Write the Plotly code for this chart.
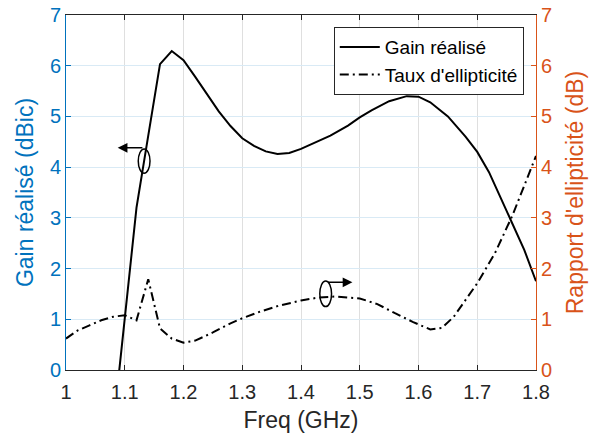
import plotly.graph_objects as go

# Gain réalisé (dBic) vs frequency (GHz)
freq_gain = [1.08, 1.10, 1.12, 1.14, 1.16, 1.18, 1.20, 1.22, 1.24, 1.26, 1.28, 1.30,
             1.32, 1.34, 1.36, 1.38, 1.40, 1.42, 1.45, 1.48, 1.50, 1.52, 1.55, 1.58,
             1.60, 1.62, 1.65, 1.68, 1.70, 1.72, 1.75, 1.78, 1.80]
gain = [-1.17, 1.01, 3.20, 4.62, 6.03, 6.29, 6.11, 5.78, 5.43, 5.10, 4.81, 4.57,
        4.42, 4.31, 4.26, 4.28, 4.36, 4.46, 4.62, 4.82, 4.98, 5.12, 5.30, 5.40,
        5.39, 5.28, 5.00, 4.60, 4.30, 3.90, 3.15, 2.37, 1.75]

# Taux d'ellipticité (dB) vs frequency (GHz)
freq_ar = [1.00, 1.02, 1.04, 1.06, 1.08, 1.10, 1.12, 1.14, 1.16, 1.18, 1.20, 1.22,
           1.25, 1.28, 1.30, 1.33, 1.36, 1.40, 1.43, 1.46, 1.50, 1.53, 1.56, 1.59,
           1.62, 1.64, 1.66, 1.68, 1.70, 1.73, 1.76, 1.80]
axial_ratio = [0.62, 0.78, 0.88, 0.98, 1.05, 1.08, 0.98, 1.79, 0.82, 0.62, 0.54, 0.58,
               0.74, 0.92, 1.02, 1.15, 1.26, 1.37, 1.43, 1.45, 1.41, 1.30, 1.12, 0.95,
               0.80, 0.83, 1.05, 1.38, 1.71, 2.30, 3.05, 4.22]

x_ticks = [1.0, 1.1, 1.2, 1.3, 1.4, 1.5, 1.6, 1.7, 1.8]
x_tick_labels = ["1", "1.1", "1.2", "1.3", "1.4", "1.5", "1.6", "1.7", "1.8"]
y_ticks = [0, 1, 2, 3, 4, 5, 6, 7]

BLUE = "#0072BD"
ORANGE = "#D95319"
DARK = "#262626"
FONT = "Liberation Sans, Arial, sans-serif"

fig = go.Figure()
fig.add_trace(go.Scatter(x=freq_gain, y=gain, mode="lines", name="Gain réalisé",
                         line=dict(color="black", width=2), yaxis="y"))
fig.add_trace(go.Scatter(x=freq_ar, y=axial_ratio, mode="lines", name="Taux d'ellipticité",
                         line=dict(color="black", width=2, dash="9px,4px,2px,4px"), yaxis="y2"))

# ellipses marking the curves
fig.add_shape(type="circle", xref="x", yref="y", x0=1.123, x1=1.143, y0=3.88, y1=4.36,
              line=dict(color="black", width=1.5))
fig.add_shape(type="circle", xref="x", yref="y", x0=1.432, x1=1.452, y0=1.25, y1=1.756,
              line=dict(color="black", width=1.5))
# arrows
fig.add_annotation(x=1.088, y=4.38, ax=1.1326, ay=4.38, xref="x", yref="y",
                   axref="x", ayref="y", text="", showarrow=True, arrowhead=2,
                   arrowsize=1.3, arrowwidth=1.5, arrowcolor="black")
fig.add_annotation(x=1.4875, y=1.73, ax=1.4432, ay=1.73, xref="x", yref="y",
                   axref="x", ayref="y", text="", showarrow=True, arrowhead=2,
                   arrowsize=1.3, arrowwidth=1.5, arrowcolor="black")

fig.update_layout(
    width=592, height=440,
    margin=dict(l=66, r=56, t=15, b=70, autoexpand=False),
    paper_bgcolor="white", plot_bgcolor="white",
    font=dict(family=FONT, size=20, color=DARK),
    showlegend=True,
    legend=dict(x=0.974, y=0.966, xanchor="right", yanchor="top",
                bgcolor="white", bordercolor=DARK, borderwidth=1,
                traceorder="normal", itemwidth=40,
                font=dict(size=19, color="black"), tracegroupgap=0),
    xaxis=dict(range=[1, 1.8], tickvals=x_ticks, ticktext=x_tick_labels,
               showgrid=True, gridcolor="#dfdfdf", gridwidth=1, automargin=False,
               ticks="inside", ticklen=5, tickcolor=DARK, tickwidth=1,
               showline=True, linecolor=DARK, linewidth=1, mirror="ticks",
               zeroline=False, tickfont=dict(size=20, color=DARK),
               ticklabeloverflow="allow", ticklabelstandoff=4,
               title=dict(text="Freq (GHz)", font=dict(size=23, color=DARK), standoff=9)),
    yaxis=dict(range=[0, 7], tickvals=y_ticks, showgrid=True, gridcolor="#d9eaf5",
               automargin=False, ticklabeloverflow="allow",
               ticks="inside", ticklen=5, tickcolor=BLUE, showline=True, linecolor=BLUE,
               linewidth=1, zeroline=False, tickfont=dict(size=20, color=BLUE),
               title=dict(text="Gain réalisé (dBic)", font=dict(size=23, color=BLUE), standoff=9)),
    yaxis2=dict(range=[0, 7], tickvals=y_ticks, overlaying="y", side="right",
                automargin=False, ticklabeloverflow="allow",
                showgrid=False, ticks="inside", ticklen=5, tickcolor=ORANGE,
                showline=True, linecolor=ORANGE, linewidth=1, zeroline=False,
                tickfont=dict(size=20, color=ORANGE),
                title=dict(text="Rapport d'ellipticité (dB)", font=dict(size=23, color=ORANGE), standoff=15)),
)

fig.write_html("out.html", config={"displayModeBar": False},
               post_script="document.body.style.margin='0';document.body.style.overflow='hidden';")
